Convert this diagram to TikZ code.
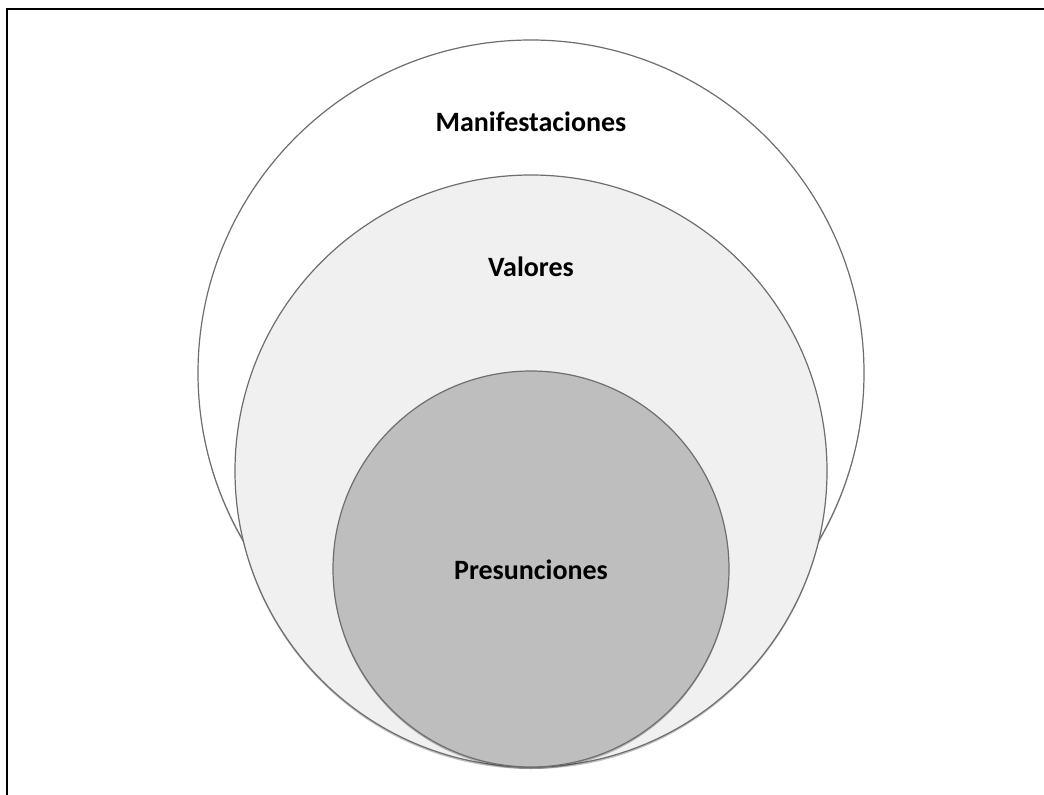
\documentclass[tikz,border=0pt]{standalone}
\usepackage{fontspec}
\setmainfont{Carlito}
\usetikzlibrary{shadows}
\definecolor{ringline}{RGB}{110,110,110}
\definecolor{midfill}{RGB}{240,240,240}
\definecolor{innerfill}{RGB}{190,190,190}
\tikzset{
  ring/.style={circle, draw=ringline, line width=1.2pt, inner sep=0pt,
    drop shadow={shadow xshift=0pt, shadow yshift=-2pt, opacity=0.25, fill=black}},
  lbl/.style={font=\fontsize{28}{32}\selectfont\bfseries, text=black, inner sep=0pt}
}
\begin{document}
\begin{tikzpicture}[x=1pt, y=-1pt]
\useasboundingbox (0,0) rectangle (1044,795);
\fill[white] (0,0) rectangle (1044,795);
\coordinate (tl) at (7,8.5);
\coordinate (tr) at (1044,8.5);
\coordinate (bl) at (7,795);
\draw[black, line width=2pt] (tr) -- (tl) -- (bl);
\node[ring, fill=white, minimum size=666pt] (outer) at (531,373) {};
\node[ring, fill=midfill, minimum size=592pt] (middle) at (531,471) {};
\node[ring, fill=innerfill, minimum size=396pt] (inner) at (531,569) {};
\node[lbl] (t1) at (531,122) {Manifestaciones};
\node[lbl] (t2) at (531,267) {Valores};
\node[lbl] (t3) at (531,570) {Presunciones};
\end{tikzpicture}
\end{document}
